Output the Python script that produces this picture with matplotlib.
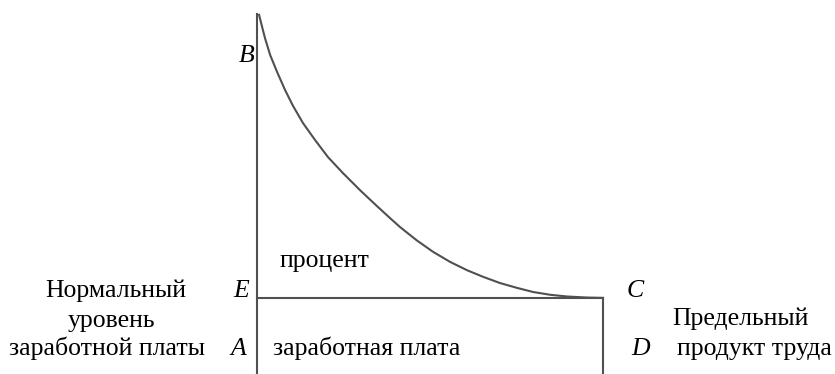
import matplotlib
matplotlib.use("Agg")
import matplotlib.pyplot as plt

# marginal product of labour curve (B -> C)
labor = [0.06, 0.14, 0.23, 0.38, 0.58, 0.81, 1.04, 1.33, 1.68, 2.05, 2.49, 2.98, 3.47,
         3.84, 4.13, 4.62, 5.09, 5.58, 6.07, 6.53, 7.02, 7.51, 7.98, 8.47, 8.96, 9.54, 10.0]
mpl_value = [10.38, 10.06, 9.71, 9.22, 8.73, 8.21, 7.75, 7.25, 6.76, 6.27, 5.80, 5.31, 4.85,
             4.51, 4.25, 3.86, 3.53, 3.24, 3.00, 2.81, 2.63, 2.49, 2.37, 2.29, 2.24, 2.21, 2.20]

wage_level = 2.20
labor_max = 10.0
top = 10.40

plt.rcParams['font.family'] = ['Liberation Serif', 'DejaVu Serif']
FS = 18.5

fig = plt.figure(figsize=(8.35, 3.74), dpi=100)
ax = fig.add_axes([0, 0, 1, 1])
ax.set_xlim(-7.428, 16.705)
ax.set_ylim(0, 10.809)
ax.axis('off')

line_color = '#505050'
ax.plot([0, 0], [0, top], color=line_color, lw=1.5)
ax.plot([0, labor_max], [wage_level, wage_level], color=line_color, lw=1.5)
ax.plot([labor_max, labor_max], [0, wage_level], color=line_color, lw=1.5)
ax.plot(labor, mpl_value, color=line_color, lw=1.5, solid_joinstyle='round')

# point letters
ax.text(-0.29, 9.02, 'B', style='italic', fontsize=FS, ha='center', va='baseline')
ax.text(-0.46, 2.23, 'E', style='italic', fontsize=FS, ha='center', va='baseline')
ax.text(-0.55, 0.55, 'A', style='italic', fontsize=FS, ha='center', va='baseline')
ax.text(10.92, 2.23, 'C', style='italic', fontsize=FS, ha='center', va='baseline')
ax.text(11.10, 0.55, 'D', style='italic', fontsize=FS, ha='center', va='baseline')

# area labels
ax.text(0.66, 3.09, 'процент', fontsize=FS, ha='left', va='baseline')
ax.text(0.46, 0.55, 'заработная плата', fontsize=FS, ha='left', va='baseline')

# left caption
ax.text(-4.08, 2.23, 'Нормальный', fontsize=FS, ha='center', va='baseline')
ax.text(-4.22, 1.36, 'уровень', fontsize=FS, ha='center', va='baseline')
ax.text(-4.34, 0.55, 'заработной платы', fontsize=FS, ha='center', va='baseline')

# right caption
ax.text(11.99, 1.42, 'Предельный', fontsize=FS, ha='left', va='baseline')
ax.text(12.14, 0.55, 'продукт труда', fontsize=FS, ha='left', va='baseline')

fig.savefig('out.png', dpi=100)
